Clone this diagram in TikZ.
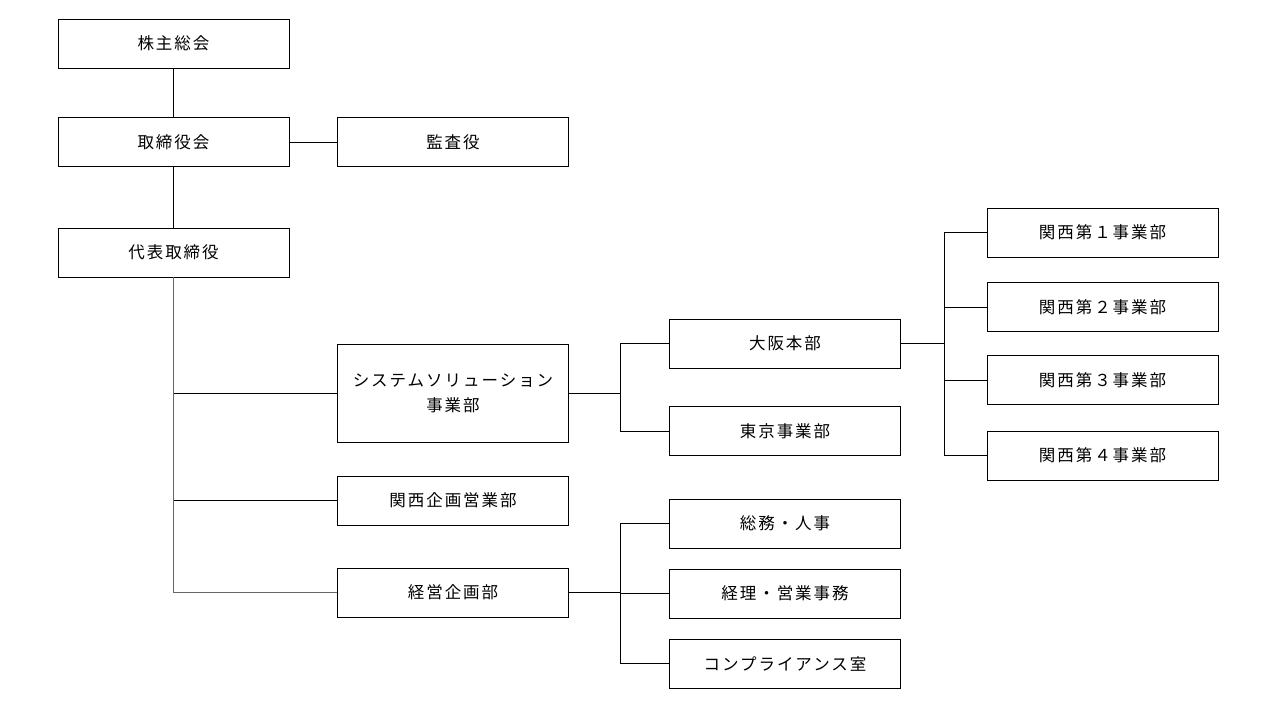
\documentclass[tikz,border=0pt]{standalone}
\usepackage{fontspec}
\newfontfamily\jp[LetterSpace=12]{Noto Sans CJK JP}
\begin{document}
\begin{tikzpicture}[x=1pt,y=-1pt,
  box/.style={draw,line width=0.9pt,minimum width=231pt,minimum height=49pt,inner sep=0pt,
    font=\jp\fontsize{16.5}{25}\selectfont,align=center},
  link/.style={line width=0.9pt}]
\useasboundingbox (0,0) rectangle (1280,720);
\node[box] (kabu) at (173.5,43.5) {株主総会};
\node[box] (torishimari) at (173.5,142) {取締役会};
\node[box] (kansa) at (453,142) {監査役};
\node[box] (daihyo) at (173.5,252.5) {代表取締役};
\node[box,minimum height=98pt] (sys) at (453,393) {システムソリューション\\事業部};
\node[box] (kikaku) at (453,500.5) {関西企画営業部};
\node[box] (keiei) at (453,592.5) {経営企画部};
\node[box] (osaka) at (785,343.5) {大阪本部};
\node[box] (tokyo) at (785,431) {東京事業部};
\node[box] (soumu) at (785,523.5) {総務・人事};
\node[box] (keiri) at (785,593.5) {経理・営業事務};
\node[box] (comp) at (785,663.5) {コンプライアンス室};
\node[box] (kansaiA) at (1102.5,232.5) {関西第１事業部};
\node[box] (kansaiB) at (1102.5,307) {関西第２事業部};
\node[box] (kansaiC) at (1102.5,380) {関西第３事業部};
\node[box] (kansaiD) at (1102.5,455.5) {関西第４事業部};
\coordinate (jsys) at (620,393);
\coordinate (jkeiei) at (620,592.5);
\coordinate (josaka) at (944,343.5);
\draw[link] (kabu) -- (torishimari);
\draw[link] (torishimari) -- (kansa);
\draw[link] (torishimari) -- (daihyo);
\draw[link] (daihyo.south) |- (sys.west);
\draw[link] (daihyo.south) |- (kikaku.west);
\draw[link,black!60] (daihyo.south) |- (keiei.west);
\draw[link] (sys.east) -- (jsys);
\draw[link] (jsys) |- (osaka.west);
\draw[link] (jsys) |- (tokyo.west);
\draw[link] (keiei.east) -- (jkeiei);
\draw[link] (jkeiei) |- (soumu.west);
\draw[link] (jkeiei) |- (keiri.west);
\draw[link] (jkeiei) |- (comp.west);
\draw[link] (osaka.east) -- (josaka);
\draw[link] (josaka) |- (kansaiA.west);
\draw[link] (josaka) |- (kansaiB.west);
\draw[link] (josaka) |- (kansaiC.west);
\draw[link] (josaka) |- (kansaiD.west);
\end{tikzpicture}
\end{document}
